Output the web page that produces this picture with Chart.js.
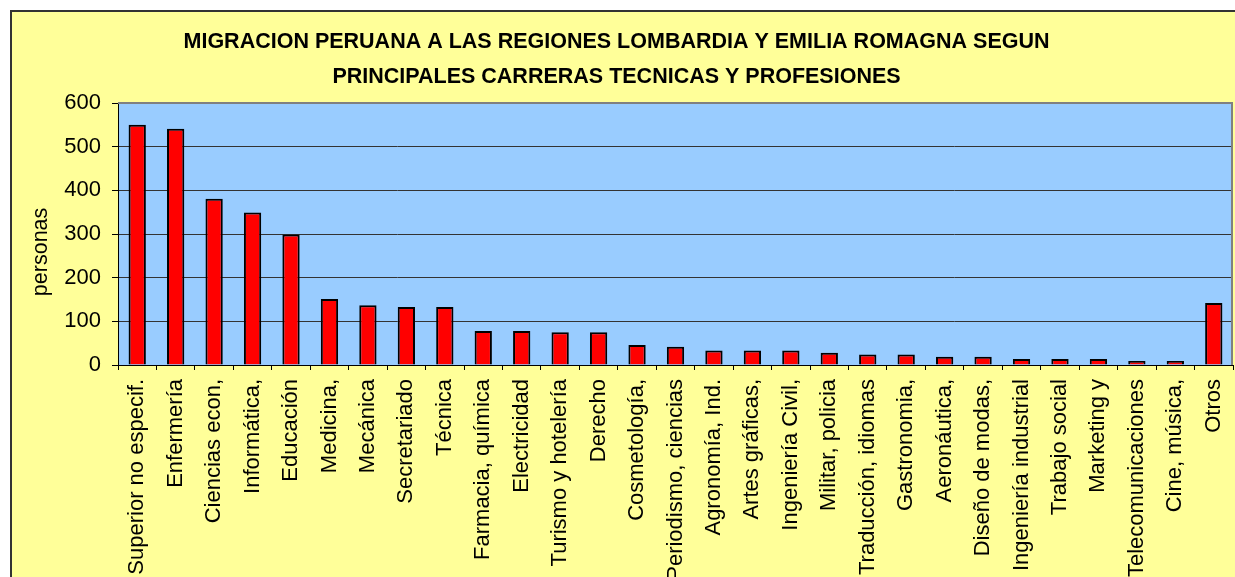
<!DOCTYPE html>
<html>
<head>
<meta charset="utf-8">
<script src="https://cdn.jsdelivr.net/npm/chart.js@4/dist/chart.umd.min.js"></script>
<style>
    body { margin: 0; overflow: hidden; background: #fff; }
    #frame {
        position: absolute; left: 10px; top: 10px; width: 1300px; height: 700px;
        background: #FFFF99; border-top: 2px solid #333; border-left: 2px solid #333;
    }
    #migrChart { position: absolute; left: 0; top: 0; }
</style>
</head>
<body>
<div id="frame"></div>
<canvas id="migrChart" width="1235" height="680"></canvas>
<script>
const carreras = [
    'Superior no especif.', 'Enfermería', 'Ciencias econ,', 'Informática,', 'Educación',
    'Medicina,', 'Mecánica', 'Secretariado', 'Técnica', 'Farmacia, química',
    'Electricidad', 'Turismo y hotelería', 'Derecho', 'Cosmetología,', 'Periodismo, ciencias',
    'Agronomía, Ind.', 'Artes gráficas,', 'Ingeniería Civil,', 'Militar, policia', 'Traducción, idiomas',
    'Gastronomia,', 'Aeronáutica,', 'Diseño de modas,', 'Ingeniería industrial', 'Trabajo social',
    'Marketing y', 'Telecomunicaciones', 'Cine, música,', 'Otros'
];
const personas = [
    550, 541, 381, 349, 299,
    151, 137, 133, 133, 78,
    78, 75, 75, 46, 42,
    33, 33, 33, 28, 24,
    24, 19, 19, 14, 14,
    14, 9, 9, 142
];
const yTicks = [0, 100, 200, 300, 400, 500, 600];

const titleLines = [
    'MIGRACION PERUANA A LAS REGIONES LOMBARDIA Y EMILIA ROMAGNA SEGUN',
    'PRINCIPALES CARRERAS TECNICAS Y PROFESIONES'
];

const FONT = 'Arial, "Liberation Sans", sans-serif';

// light blue plot background and grey frame on top / right
const plotArea = {
    id: 'plotArea',
    beforeDraw(chart) {
        const { ctx, chartArea: a } = chart;
        ctx.save();
        ctx.fillStyle = '#99CCFF';
        ctx.fillRect(a.left, a.top, a.right - a.left, a.bottom - a.top);
        ctx.restore();
    },
    beforeDatasetsDraw(chart) {
        const { ctx, chartArea: a } = chart;
        ctx.save();
        ctx.strokeStyle = '#808080';
        ctx.lineWidth = 2;
        ctx.beginPath();
        ctx.moveTo(a.left, a.top);
        ctx.lineTo(a.right - 1, a.top);
        ctx.lineTo(a.right - 1, a.bottom);
        ctx.stroke();
        ctx.restore();
    }
};

const ctx = document.getElementById('migrChart').getContext('2d');
new Chart(ctx, {
    type: 'bar',
    data: {
        labels: carreras,
        datasets: [{
            label: 'personas',
            data: personas,
            backgroundColor: '#FF0000',
            borderColor: '#000000',
            borderWidth: 2,
            categoryPercentage: 1,
            barPercentage: 0.45
        }]
    },
    options: {
        responsive: false,
        animation: false,
        devicePixelRatio: 1,
        layout: { padding: { left: 0, right: 2, top: 0, bottom: 0 } },
        plugins: {
            legend: { display: false },
            tooltip: { enabled: false },
            title: {
                display: true,
                text: titleLines,
                color: '#000',
                font: { family: FONT, size: 21.5, weight: 'bold', lineHeight: '35px' },
                padding: { top: 25, bottom: 8 }
            }
        },
        scales: {
            x: {
                offset: true,
                grid: {
                    offset: true,
                    drawOnChartArea: false,
                    tickLength: 5,
                    tickColor: '#000'
                },
                border: { color: '#000', width: 1 },
                ticks: {
                    autoSkip: false,
                    maxRotation: 90,
                    minRotation: 90,
                    padding: 9,
                    color: '#000',
                    font: { family: FONT, size: 22 }
                },
                afterFit: scale => {
                    scale.height = 680 - 365;
                    scale.paddingLeft = 0;
                    scale.paddingRight = 0;
                }
            },
            y: {
                min: 0,
                max: 600,
                afterBuildTicks: scale => { scale.ticks = yTicks.map(v => ({ value: v })); },
                grid: {
                    color: '#333',
                    lineWidth: 1,
                    tickLength: 6,
                    tickColor: '#000'
                },
                border: { color: '#000', width: 1 },
                ticks: {
                    padding: 11,
                    color: '#000',
                    font: { family: FONT, size: 22 }
                },
                title: {
                    display: true,
                    text: 'personas\u00a0\u00a0\u00a0\u00a0\u00a0\u00a0',
                    color: '#000',
                    font: { family: FONT, size: 21.5 },
                    padding: { top: 28, bottom: 0 }
                },
                afterFit: scale => { scale.width = 118; }
            }
        }
    },
    plugins: [plotArea]
});
</script>
</body>
</html>
